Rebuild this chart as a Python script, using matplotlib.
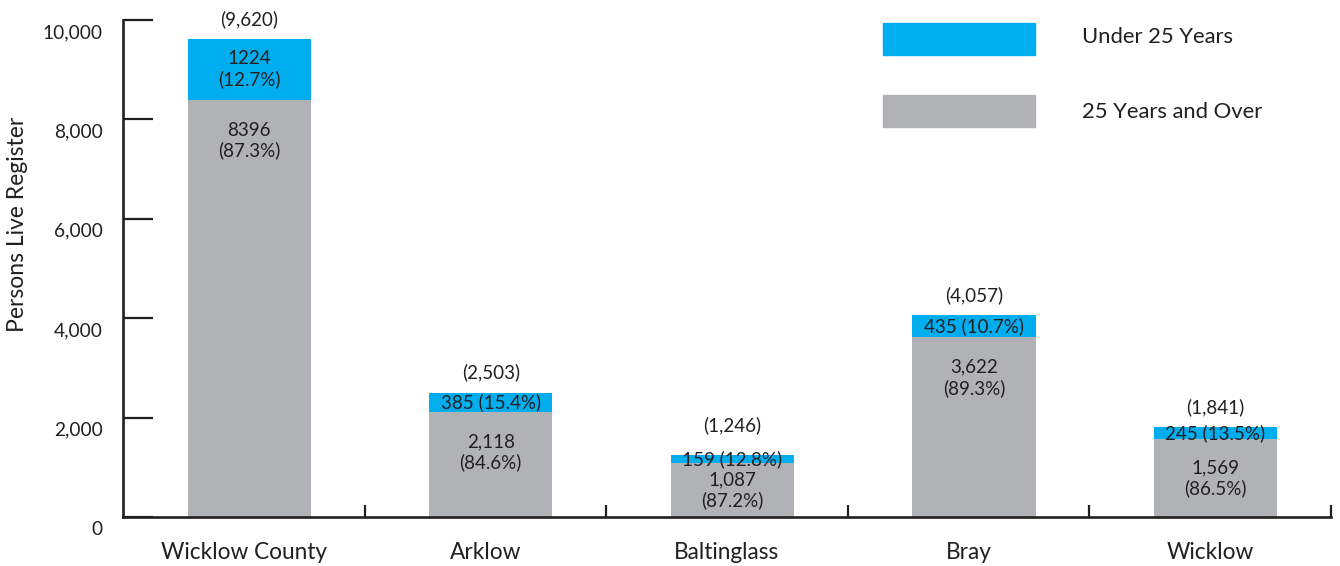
import matplotlib.pyplot as plt
from matplotlib.patches import Rectangle
from matplotlib.transforms import ScaledTranslation

# Data
areas = ['Wicklow County', 'Arklow', 'Baltinglass', 'Bray', 'Wicklow']
under_25 = [1224, 385, 159, 435, 245]
over_25 = [8396, 2118, 1087, 3622, 1569]
under_labels = ['1224\n(12.7%)', '385 (15.4%)', '159 (12.8%)', '435 (10.7%)', '245 (13.5%)']
over_labels = ['8396\n(87.3%)', '2,118\n(84.6%)', '1,087\n(87.2%)', '3,622\n(89.3%)', '1,569\n(86.5%)']
total_labels = ['(9,620)', '(2,503)', '(1,246)', '(4,057)', '(1,841)']
yticks = [0, 2000, 4000, 6000, 8000, 10000]
ytick_labels = ['0', '2,000', '4,000', '6,000', '8,000', '10,000']

BLUE = '#00AEEF'
GREY = '#B1B2B6'
INK = '#231F20'

plt.rcParams['font.family'] = ['Lato', 'DejaVu Sans']
plt.rcParams['text.color'] = INK

fig = plt.figure(figsize=(13.4, 5.66), dpi=100)
ax = fig.add_axes([123 / 1340, 1 - 517 / 566, 1208 / 1340, 497 / 566])

centers = [i + 0.5 for i in range(len(areas))]
x = [c + 0.022 for c in centers]  # bars sit a touch right of the category centre
width = 0.51
ax.bar(x, over_25, width=width, color=GREY, zorder=2)
ax.bar(x, under_25, width=width, bottom=over_25, color=BLUE, zorder=2)

ax.set_xlim(0, len(areas))
ax.set_ylim(0, 10000)

# labels on the bars
for xi, o, u, ol, ul, tl in zip(x, over_25, under_25, over_labels, under_labels, total_labels):
    top = o + u
    ax.text(xi, o + u / 2, ul, ha='center', va='center', fontsize=13.5,
            linespacing=1.2, zorder=3)
    ax.text(xi, max(o - 820, o / 2), ol, ha='center', va='center', fontsize=13.5,
            linespacing=1.2, zorder=3)
    off = 30 if u < 200 else 20
    ax.annotate(tl, (xi, top), xytext=(0, off * 0.72), textcoords='offset points',
                ha='center', va='center', fontsize=13.5)

# axes styling
for s in ['top', 'right']:
    ax.spines[s].set_visible(False)
for s in ['left', 'bottom']:
    ax.spines[s].set_linewidth(1.9)
    ax.spines[s].set_color(INK)

ax.set_yticks(yticks)
ax.set_yticklabels(ytick_labels, fontsize=13.8)
ax.tick_params(axis='y', direction='in', length=21.6, width=1.6, pad=14.5,
               color=INK, labelcolor=INK)
shift = ScaledTranslation(0, -11 / 100, fig.dpi_scale_trans)
for lab in ax.get_yticklabels():
    lab.set_transform(lab.get_transform() + shift)

ax.set_xticks(range(1, len(areas) + 1))
ax.set_xticklabels([])
ax.tick_params(axis='x', which='major', direction='in', length=8.6, width=1.6, color=INK)
ax.set_xticks(centers, minor=True)
ax.set_xticklabels(areas, minor=True, fontsize=16.3)
ax.tick_params(axis='x', which='minor', length=0, pad=18, labelcolor=INK)

fig.text(18 / 1340, 1 - 224 / 566, 'Persons Live Register', rotation=90,
         ha='center', va='center', fontsize=16.5)

# legend drawn by hand
legend_items = [('Under 25 Years', BLUE, 23, 37), ('25 Years and Over', GREY, 95, 112)]
for name, color, ytop, ytext in legend_items:
    fig.patches.append(Rectangle((883 / 1340, 1 - (ytop + 32) / 566), 152 / 1340, 32 / 566,
                                 transform=fig.transFigure, color=color))
    fig.text(1082 / 1340, 1 - ytext / 566, name, ha='left', va='center', fontsize=15.8)

fig.savefig('out.png', dpi=100, facecolor='white')
